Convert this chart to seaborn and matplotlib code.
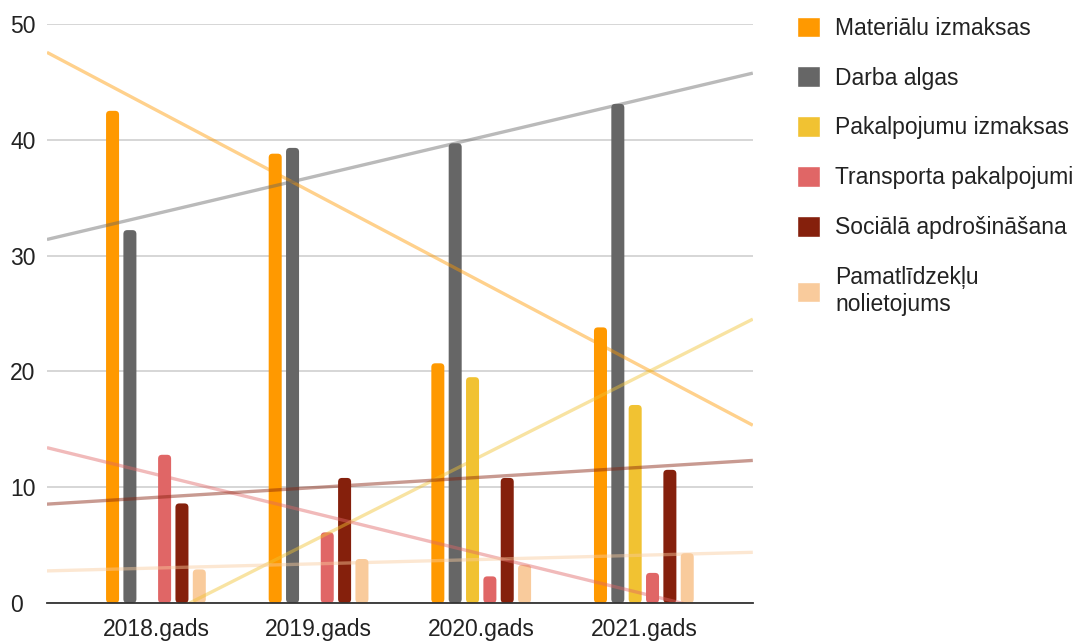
import numpy as np
import pandas as pd
import seaborn as sns
import matplotlib
matplotlib.use("Agg")
import matplotlib.pyplot as plt
from matplotlib.patches import FancyBboxPatch

years = ["2018.gads", "2019.gads", "2020.gads", "2021.gads"]
series = ["Materiālu izmaksas", "Darba algas", "Pakalpojumu izmaksas",
          "Transporta pakalpojumi", "Sociālā apdrošināšana",
          "Pamatlīdzekļu\nnolietojums"]
materialu = [42.5, 38.8, 20.7, 23.8]
darba = [32.2, 39.3, 39.7, 43.1]
pakalpojumu = [0, 0, 19.5, 17.1]
transporta = [12.8, 6.1, 2.3, 2.6]
sociala = [8.6, 10.8, 10.8, 11.5]
pamatl = [2.9, 3.8, 3.3, 4.3]
colors = ["#ff9900", "#666666", "#f1c232", "#e06666", "#85200c", "#f9cb9c"]

values = [materialu, darba, pakalpojumu, transporta, sociala, pamatl]
df = pd.DataFrame({
    "year": [y for _ in series for y in years],
    "series": [s for s in series for _ in years],
    "value": [v for vals in values for v in vals],
})

sns.set_style("white")
plt.rcParams["font.family"] = ["Liberation Sans", "DejaVu Sans"]

fig = plt.figure(figsize=(10.77, 6.43), dpi=100)
ax = fig.add_axes([0.0436, 0.0622, 0.6554, 0.9005])

sns.barplot(data=df, x="year", y="value", hue="series", palette=colors,
            saturation=1, width=0.64, gap=0.25, ax=ax, zorder=2, legend=True)

ax.set_xlim(-0.67, 3.67)
ax.set_ylim(0, 50)

# round the bar tops a little, like the original
aspect = (50 / 579) / (4.34 / 706)
for p in list(ax.patches):
    x, y = p.get_x(), p.get_y()
    w, h = p.get_width(), p.get_height()
    if h <= 0:
        continue
    r = min(w * 0.3, h / aspect / 2)
    fb = FancyBboxPatch((x, y), w, h,
                        boxstyle=f"round,pad=0,rounding_size={r}",
                        mutation_aspect=aspect, facecolor=p.get_facecolor(),
                        edgecolor="none", zorder=2)
    ax.add_patch(fb)
    p.set_visible(False)

# linear trendlines for every series
xs = np.arange(len(years))
xl = np.array([-0.67, 3.67])
for vals, c in zip(values, colors):
    k, b = np.polyfit(xs, vals, 1)
    ax.plot(xl, k * xl + b, color=c, alpha=0.45, lw=2.4, zorder=3,
            solid_capstyle="butt")

ax.set_yticks([0, 10, 20, 30, 40, 50])
ax.yaxis.grid(True, color="#cccccc", lw=1.1)
ax.set_axisbelow(True)
for s in ["top", "right", "left"]:
    ax.spines[s].set_visible(False)
ax.spines["bottom"].set_color("#333333")
ax.spines["bottom"].set_linewidth(1.3)
ax.spines["bottom"].set_zorder(4)
ax.set_xlabel("")
ax.set_ylabel("")
ax.tick_params(axis="both", length=0, labelsize=16.5, colors="#222222")
ax.tick_params(axis="y", pad=26.5)
for t in ax.get_yticklabels():
    t.set_horizontalalignment("left")
ax.tick_params(axis="x", pad=11)

handles, labels = ax.get_legend_handles_labels()
ax.legend(handles, labels, loc="upper left", bbox_to_anchor=(0.734, 0.985),
          bbox_transform=fig.transFigure, frameon=False, fontsize=16.5,
          handlelength=1.0, handleheight=1.0, handletextpad=0.65,
          labelspacing=1.17, borderaxespad=0, borderpad=0.3,
          labelcolor="#222222")

fig.savefig("out.png", dpi=100, facecolor="white")
